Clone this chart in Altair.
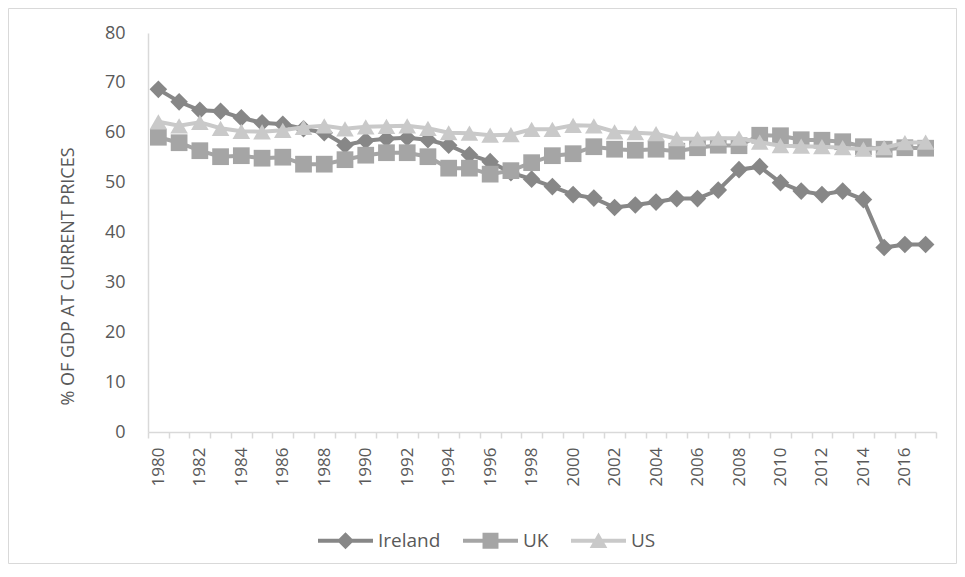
import altair as alt
import pandas as pd

years = [str(y) for y in range(1980, 2018)]
countries = ["Ireland", "UK", "US"]

ireland = [68.7, 66.2, 64.5, 64.3, 63.0, 62.0, 61.7, 60.8, 60.0, 57.5,
           58.4, 58.8, 59.0, 58.6, 57.5, 55.6, 54.2, 52.0, 50.7, 49.2,
           47.6, 46.9, 45.0, 45.5, 46.1, 46.8, 46.8, 48.5, 52.6, 53.2,
           50.0, 48.3, 47.6, 48.3, 46.6, 37.0, 37.6, 37.6]
uk = [59.1, 58.0, 56.4, 55.2, 55.4, 54.9, 55.1, 53.7, 53.7, 54.6,
      55.5, 56.0, 56.0, 55.2, 52.9, 52.9, 51.7, 52.4, 54.0, 55.4,
      55.8, 57.2, 56.7, 56.5, 56.7, 56.3, 57.0, 57.5, 57.4, 59.5,
      59.4, 58.6, 58.5, 58.2, 57.2, 56.7, 57.0, 56.9]
us = [62.2, 61.4, 62.1, 60.9, 60.3, 60.2, 60.5, 61.1, 61.4, 60.8,
      61.2, 61.3, 61.4, 60.9, 60.0, 59.9, 59.5, 59.6, 60.7, 60.7,
      61.5, 61.4, 60.2, 60.0, 59.8, 58.8, 58.8, 58.9, 58.9, 58.1,
      57.4, 57.3, 57.2, 57.0, 56.7, 57.0, 58.0, 58.1]

colors = ["#878787", "#a5a5a5", "#c9c9c9"]
shapes = ["diamond", "square", "triangle-up"]
sizes = [310, 280, 310]
legend_paths = [
    "M-1,-0.075H1V0.075H-1Z M0,-0.31L0.31,0L0,0.31L-0.31,0Z",
    "M-1,-0.075H1V0.075H-1Z M-0.29,-0.29H0.29V0.29H-0.29Z",
    "M-1,-0.075H1V0.075H-1Z M0,-0.3L0.32,0.26L-0.32,0.26Z",
]

rows = []
for c, vals in zip(countries, [ireland, uk, us]):
    for yr, v in zip(years, vals):
        rows.append({"Year": yr, "Country": c, "Value": v})
df = pd.DataFrame(rows)

FONT = "Open Sans"
TXT = "#595959"
AX = "#d9d9d9"

x = alt.X(
    "Year:O",
    scale=alt.Scale(type="band", paddingInner=0, paddingOuter=0),
    axis=alt.Axis(
        title=None, labelAngle=-90, tickBand="extent",
        labelExpr="parseInt(datum.value) % 2 == 0 ? datum.label : ''",
        labelOverlap=False, labelFont=FONT, labelFontSize=17, labelColor=TXT,
        labelPadding=9, domainColor=AX, tickColor=AX, tickSize=6,
        domainWidth=1.5, tickWidth=1.5, grid=False,
    ),
)
y = alt.Y(
    "Value:Q",
    scale=alt.Scale(domain=[0, 80]),
    axis=alt.Axis(
        values=list(range(0, 81, 10)), grid=False, ticks=False, tickSize=0,
        labelFont=FONT, labelFontSize=18, labelColor=TXT, labelPadding=23,
        domainColor=AX, domainWidth=1.5,
        title="% OF GDP AT CURRENT PRICES", titleFont=FONT, titleFontSize=18,
        titleFontWeight="normal", titleColor=TXT, titleAngle=-90,
        titleX=-80, titleY=243, titleAlign="center", titleBaseline="middle",
    ),
)
cscale = alt.Scale(domain=countries, range=colors)

layers = []
for c, col, shp, sz in zip(countries, colors, shapes, sizes):
    base = alt.Chart(df).transform_filter(alt.datum.Country == c)
    layers.append(base.mark_line(strokeWidth=4, color=col).encode(x=x, y=y))
    layers.append(
        base.mark_point(shape=shp, filled=True, size=sz, opacity=1, color=col)
        .encode(x=x, y=y)
    )

leg_props = dict(
    title=None, orient="none", legendX=170, legendY=480, direction="horizontal",
    labelFont=FONT, labelFontSize=19, labelColor=TXT, labelOffset=5,
    columnPadding=22, symbolSize=3025, symbolStrokeWidth=0, symbolOpacity=1,
)
legend_layer = (
    alt.Chart(df)
    .transform_filter("false")
    .mark_point(filled=True, opacity=1, size=3025)
    .encode(
        x=x, y=y,
        color=alt.Color("Country:N", scale=cscale, legend=alt.Legend(**leg_props)),
        shape=alt.Shape("Country:N", scale=alt.Scale(domain=countries, range=legend_paths),
                        legend=alt.Legend(**leg_props)),
    )
)

frame = alt.Chart(pd.DataFrame({"a": [0]})).mark_rect(
    fillOpacity=0, stroke=AX, strokeWidth=1
).encode(
    x=alt.value(-139.5), x2=alt.value(808.5), y=alt.value(-24.5), y2=alt.value(530.5)
)

chart = (
    alt.layer(frame, *layers, legend_layer)
    .properties(
        width=788, height=399,
        padding={"left": 140, "top": 25, "right": 21, "bottom": 132},
        autosize=alt.AutoSizeParams(type="none"),
    )
    .configure_view(stroke=None)
)

chart.save("out.html", embed_options={"renderer": "svg", "actions": False})
